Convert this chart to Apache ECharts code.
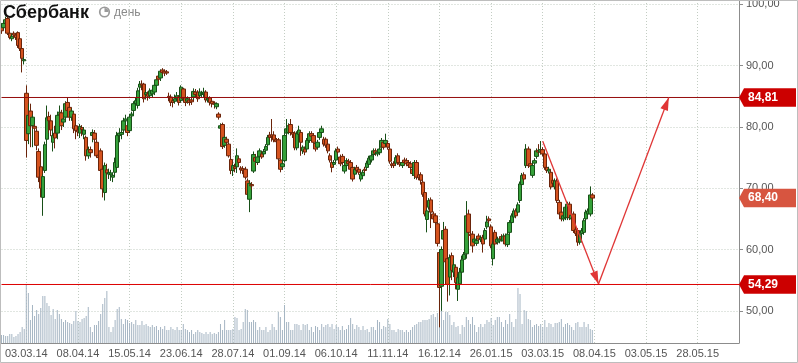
<!DOCTYPE html>
<html><head><meta charset="utf-8">
<script src="https://cdn.jsdelivr.net/npm/echarts@6/dist/echarts.min.js"></script>
<style>html,body{margin:0;padding:0;background:#fff}#c{width:798px;height:363px}</style>
</head><body><div id="c"></div>
<script>
// ---- data ----
const TICK_LABELS = ['03.03.14','08.04.14','15.05.14','23.06.14','28.07.14','01.09.14','06.10.14','11.11.14','16.12.14','26.01.15','03.03.15','08.04.15','03.05.15','28.05.15'];
const TICK_START = 12;      // category index of first labelled date
const TICK_STEP = 25;       // trading days between labels
const SLOT_COUNT = 358;     // history + forecast space
const categories = Array.from({length: SLOT_COUNT}, (_, i) => String(i));

// [open, close, low, high]
const ohlc = [
[96.6,95.7,95.2,96.9],[96.2,96.9,95.9,97.2],[96.9,97.5,96.6,98.0],[97.7,95.3,95.0,98.0],[95.3,94.6,94.3,95.6],[94.4,94.8,94.0,95.2],[95.3,95.0,94.6,95.6],[95.0,94.6,94.2,95.3],[95.4,93.3,92.9,95.6],[94.4,92.8,92.4,94.6],
[92.8,91.2,88.9,93.0],[90.8,91.0,90.2,91.4],[85.5,77.8,75.0,86.8],[78.9,81.9,77.2,83.8],[82.6,80.2,76.7,83.8],[80.2,81.6,76.7,82.0],[80.1,79.8,79.0,80.5],[79.3,77.0,76.2,79.8],[76.0,71.8,71.0,76.5],[73.5,70.0,68.5,74.0],
[68.5,71.9,65.5,72.3],[72.9,77.1,72.5,77.6],[78.0,81.5,76.0,83.5],[81.7,81.0,79.0,82.5],[81.0,79.5,78.5,82.0],[77.5,78.6,76.0,79.7],[79.0,78.2,76.5,80.2],[79.0,81.9,78.0,82.5],[82.0,82.4,81.0,83.5],[82.3,80.2,79.5,82.8],
[80.8,81.3,80.0,82.0],[81.6,83.8,81.0,84.2],[84.0,82.7,82.0,84.8],[83.2,81.6,81.0,83.6],[81.6,82.6,81.0,83.0],[82.1,79.7,79.0,82.5],[80.2,79.4,78.0,80.6],[79.5,79.2,78.5,80.0],[79.0,80.1,78.2,80.5],[79.9,79.6,78.5,80.3],
[78.8,79.5,78.0,80.0],[78.3,75.3,74.5,78.6],[75.3,76.3,74.8,76.8],[76.3,75.8,75.0,76.8],[78.6,79.1,77.5,79.6],[79.0,78.0,77.0,79.5],[77.5,75.3,75.0,78.0],[75.4,75.0,74.2,76.0],[76.1,72.9,72.3,76.5],[73.1,69.9,68.5,73.5],
[69.3,73.7,68.0,74.2],[73.0,72.5,71.5,74.0],[72.3,72.6,71.5,73.2],[72.2,72.5,71.2,73.0],[71.8,72.1,71.0,72.6],[72.6,74.2,72.0,75.0],[73.4,78.6,73.0,79.2],[78.6,79.0,77.5,79.8],[78.8,79.1,78.0,80.0],[79.5,81.0,78.8,81.5],
[81.0,81.3,80.0,82.0],[80.2,79.1,78.5,80.8],[79.4,81.6,79.0,82.0],[81.8,82.1,81.0,82.5],[82.7,83.8,82.0,84.2],[83.8,84.3,83.0,84.8],[83.5,85.9,83.0,86.4],[86.5,87.0,85.8,87.5],[87.0,86.8,86.0,87.6],[87.0,84.6,84.0,87.2],
[85.3,85.6,84.5,86.0],[85.4,85.0,84.3,85.8],[85.1,85.9,84.6,86.3],[85.4,86.0,84.8,86.5],[85.7,86.8,85.2,87.2],[86.8,87.7,86.3,88.0],[88.3,87.8,87.0,88.6],[88.0,89.1,87.5,89.4],[89.3,88.9,88.5,89.6],[89.1,88.8,88.3,89.4],
[89.0,88.8,88.5,89.3],[85.0,84.8,84.2,85.6],[84.9,84.0,83.4,85.3],[84.3,84.0,83.2,84.6],[84.2,84.6,83.8,85.3],[84.6,85.1,84.2,85.7],[84.9,84.0,83.5,85.2],[84.3,86.5,84.0,86.8],[86.2,84.6,84.2,86.4],[84.75,84.0,83.4,85.0],
[84.2,84.6,83.8,85.0],[84.4,84.0,83.5,84.8],[84.4,84.1,83.6,84.8],[84.9,85.8,84.4,86.3],[85.7,85.3,84.8,86.2],[85.7,84.6,84.1,86.0],[85.1,85.7,84.7,86.3],[85.3,85.5,84.9,85.9],[85.4,85.7,84.9,86.4],[85.7,84.4,84.0,86.0],
[84.4,84.7,84.0,85.0],[84.75,84.0,83.5,85.0],[84.2,83.8,83.2,84.5],[83.9,83.7,83.0,84.2],[83.3,83.8,82.9,84.0],[82.1,81.6,81.2,82.4],[79.8,80.2,79.3,80.6],[80.4,76.8,76.4,80.7],[77.0,78.3,76.6,78.6],[78.0,77.5,77.0,78.4],
[77.2,75.3,75.0,77.5],[74.7,72.9,72.3,75.3],[72.9,73.7,72.0,74.0],[73.5,73.2,72.6,74.0],[73.5,75.3,72.5,76.5],[74.8,74.2,73.6,75.2],[73.3,73.0,72.4,73.6],[73.2,72.9,72.3,73.6],[73.1,71.8,71.4,73.5],[71.2,69.0,68.6,71.6],
[68.2,70.8,66.1,71.3],[70.6,70.4,69.8,71.0],[72.8,75.5,72.5,76.0],[75.0,74.4,73.6,75.6],[74.2,75.1,73.8,75.5],[75.2,76.1,74.8,76.5],[75.6,75.1,74.8,76.0],[75.6,76.0,75.2,76.4],[76.2,76.8,75.8,77.2],[77.1,78.3,76.8,78.7],
[78.7,78.3,77.9,79.2],[78.7,78.4,77.6,81.3],[78.7,77.9,77.5,79.3],[77.9,77.6,77.0,78.2],[77.9,74.8,74.4,78.2],[74.6,73.1,72.6,74.9],[73.5,74.0,73.0,74.5],[74.5,78.6,74.2,79.0],[79.0,79.7,78.5,81.3],[79.1,80.2,78.8,80.6],
[80.4,79.1,78.6,81.3],[79.1,78.8,78.2,79.5],[79.0,76.6,76.2,79.3],[76.6,78.9,76.2,79.3],[78.8,79.5,78.4,80.2],[79.1,77.5,75.3,79.4],[76.1,76.7,75.6,77.0],[76.4,75.9,75.4,76.8],[76.4,77.8,76.0,78.2],[77.8,78.9,77.4,79.3],
[78.9,78.5,78.0,79.3],[78.6,77.5,76.4,79.0],[77.3,76.4,76.0,77.7],[76.7,77.5,76.3,77.9],[78.3,79.1,77.9,79.5],[79.1,79.7,78.7,80.2],[78.0,77.2,76.8,78.4],[78.0,77.0,76.6,78.3],[77.2,76.1,75.7,77.5],[75.3,74.6,74.2,75.7],
[74.2,73.4,72.6,74.6],[73.9,74.2,73.5,74.6],[74.6,76.1,74.2,76.5],[76.4,75.9,75.5,76.8],[75.1,74.0,73.6,75.5],[75.2,74.2,73.8,75.6],[72.8,73.7,72.4,74.1],[73.7,74.5,73.3,74.9],[74.4,74.0,73.6,74.8],[74.2,73.1,72.7,74.6],
[73.4,71.5,71.1,73.8],[72.3,73.1,71.9,73.5],[73.4,72.9,72.5,73.8],[73.1,72.6,72.2,73.5],[71.5,72.3,71.1,72.7],[72.05,72.6,71.7,73.0],[73.1,72.9,72.5,73.5],[73.4,74.1,73.0,74.5],[73.9,74.9,73.5,75.3],[74.6,75.3,74.2,75.7],
[75.5,76.1,75.1,76.5],[76.1,75.7,75.3,76.5],[75.6,75.9,75.2,76.3],[75.8,76.4,75.4,77.4],[76.7,77.8,76.3,78.2],[77.5,76.7,76.3,77.9],[77.3,77.8,76.9,78.9],[77.3,76.7,76.3,77.7],[76.4,74.4,74.0,76.8],[73.96,73.7,73.3,74.3],
[74.0,73.7,73.3,74.4],[74.1,75.0,73.7,75.4],[75.3,74.2,73.8,75.7],[74.2,73.9,73.5,74.6],[73.7,74.2,73.3,74.6],[74.6,74.2,73.8,75.0],[74.5,74.0,73.6,74.9],[74.2,73.7,73.3,74.6],[74.0,73.4,73.0,74.4],[73.1,72.4,72.0,73.5],
[72.1,74.2,71.5,74.6],[74.2,71.8,71.4,74.6],[72.2,71.7,71.3,72.6],[72.2,71.3,70.6,72.6],[71.0,69.0,68.6,71.4],[69.3,65.8,65.4,69.7],[64.9,66.3,62.8,66.7],[66.9,68.0,66.5,68.4],[68.1,66.1,63.5,68.5],[65.8,65.0,64.6,66.2],
[65.5,64.4,64.0,65.9],[64.2,61.0,60.5,64.6],[59.5,53.8,47.3,60.0],[54.0,60.0,50.0,60.5],[61.7,63.1,60.5,64.5],[63.3,58.0,56.0,63.8],[58.5,54.3,51.5,59.0],[55.5,58.7,52.5,59.2],[59.0,56.6,55.0,59.5],[56.3,57.5,55.5,58.5],
[57.1,54.6,53.5,57.5],[53.5,55.4,51.6,56.0],[54.4,56.3,53.8,57.0],[56.3,58.3,55.8,59.0],[58.4,59.2,57.5,59.6],[59.3,65.5,58.5,67.9],[65.8,62.8,61.5,66.5],[62.5,62.3,61.0,63.5],[62.5,60.6,59.5,63.0],[61.2,61.7,60.8,62.1],
[61.0,61.5,60.6,61.9],[62.2,61.7,61.3,62.6],[61.6,61.9,61.2,62.3],[62.0,60.9,59.5,62.4],[61.7,63.1,61.3,63.5],[63.7,64.5,63.3,65.5],[65.0,64.7,64.3,65.4],[63.7,60.6,60.2,64.1],[58.5,60.9,57.4,61.3],[62.8,60.9,60.5,63.2],
[61.2,61.7,60.8,62.1],[61.4,61.7,61.0,62.1],[62.1,61.7,61.3,62.5],[61.4,62.2,61.0,62.6],[62.2,60.9,60.5,62.6],[60.8,62.5,60.4,62.9],[62.8,64.4,62.4,64.8],[64.4,65.5,64.0,65.9],[65.3,66.3,64.9,66.7],[66.3,65.5,65.1,66.7],
[66.1,67.3,65.7,67.7],[68.0,70.7,67.6,71.1],[70.6,72.1,70.2,72.5],[72.2,71.5,71.1,72.6],[73.7,76.4,73.3,77.2],[76.4,73.7,73.3,76.8],[74.0,73.6,73.2,74.4],[72.1,73.7,71.7,74.1],[74.1,74.5,73.7,74.9],[75.2,76.1,74.8,76.5],
[76.2,75.9,75.5,77.2],[75.9,76.3,75.5,77.7],[76.3,75.6,75.2,76.7],[75.6,73.4,73.0,76.0],[73.4,72.9,72.5,73.8],[72.8,73.1,72.4,73.5],[72.6,70.2,69.8,73.0],[71.3,70.8,70.4,71.7],[70.2,71.2,69.8,71.6],[71.2,68.0,67.6,71.6],
[67.7,65.8,65.4,68.1],[66.1,65.0,64.6,66.5],[65.0,65.5,64.6,65.9],[65.2,66.9,64.8,67.3],[65.2,67.4,64.8,67.8],[67.4,65.2,64.8,67.8],[65.0,65.6,64.6,66.0],[65.8,63.1,62.7,66.2],[63.3,62.6,62.2,63.7],[63.1,61.2,60.6,63.5],
[61.2,62.5,60.8,62.9],[62.6,63.1,62.2,63.5],[62.8,64.7,62.4,65.1],[65.0,66.1,64.6,66.5],[65.8,66.3,65.4,66.7],[65.8,68.9,65.4,70.3],[68.9,68.4,68.0,69.2]
];

// volume, millions of shares
const volume = [
40,40,35,35,45,45,30,35,45,55,80,70,
290,250,115,190,135,165,145,175,235,235,
200,185,140,170,120,165,145,120,105,115,
105,100,95,110,160,110,105,120,125,135,
180,
80,55,90,90,110,145,195,225,260,
80,55,80,115,170,180,120,95,120,115,
100,105,95,115,90,90,110,90,95,85,
80,90,80,85,65,80,70,85,65,65,
80,70,65,80,65,65,95,70,65,55,
65,45,55,65,55,50,45,55,45,55,
45,50,45,55,95,65,115,65,65,65,70,
130,125,65,70,105,170,165,
105,105,115,105,65,80,65,65,80,55,
65,95,80,65,155,130,65,190,105,105,
65,65,95,95,90,65,95,90,95,65,
80,55,85,80,65,95,80,90,95,80,
95,70,90,80,65,85,65,70,90,125,
95,70,90,80,65,85,65,70,55,80,
80,65,115,105,70,85,80,120,95,65,
65,55,70,65,65,55,65,55,65,80,
90,95,105,105,115,115,115,120,140,145,
130,150,300,260,115,155,155,140,90,105,
80,85,45,90,80,130,115,95,130,90,
55,80,95,80,95,115,105,125,90,115,
130,130,105,80,115,95,145,105,80,120,
275,245,95,165,160,120,115,80,90,95,
85,95,80,115,80,100,95,80,100,100,
105,120,80,95,100,90,80,65,100,105,
80,80,105,80,95,70,65
];

const resistance = 84.81;
const support = 54.29;
const lastPrice = 68.40;
// forecast arrows: [category index, price]
const arrowDown = [[261.8, 77.66], [289.4, 54.36]];
const arrowUp = [[289.4, 54.36], [322.6, 84.81]];

// ---- chart ----
const fmt = v => v.toFixed(2).replace('.', ',');
const FONT = '"Liberation Sans", Arial, sans-serif';
const isTick = i => i >= TICK_START && (i - TICK_START) % TICK_STEP === 0;
const tickText = (v, i) => { const k = (i - TICK_START) / TICK_STEP; return TICK_LABELS[k] || ''; };
const gridDot = {color: '#c3cdc3', type: [1, 2], width: 1};
const arrowStyle = {color: '#e03636', width: 1.3, type: 'solid'};
const head = {symbol: 'triangle', symbolSize: [8, 13], symbolOffset: [0, 6.5]};
const LAST = SLOT_COUNT - 1;
const levelSeries = (name, value, color) => ({
  type: 'line', name: name, xAxisIndex: 0, yAxisIndex: 0, silent: true, z: 4,
  data: [[0, value], [LAST, value]], showSymbol: false, symbol: 'none',
  lineStyle: {color: color, width: 1, type: 'solid'}, itemStyle: {color: color}
});

const chart = echarts.init(document.getElementById('c'), null, {renderer: 'canvas'});
chart.setOption({
  animation: false,
  backgroundColor: '#ffffff',
  grid: [
    {left: 1.5, right: 59, top: -56.84, height: 428.89, outerBoundsMode: 'none', containLabel: false},
    {left: 1.5, right: 59, top: 0, bottom: 20, outerBoundsMode: 'none', containLabel: false}
  ],
  xAxis: [
    {type: 'category', gridIndex: 0, data: categories, boundaryGap: false, show: false},
    {type: 'category', gridIndex: 1, data: categories, boundaryGap: false,
     axisLine: {show: true, lineStyle: {color: '#8c8c8c', width: 1}},
     axisTick: {show: false},
     axisLabel: {interval: isTick, formatter: tickText, color: '#555', fontSize: 11, fontFamily: FONT, margin: 5},
     splitLine: {show: true, interval: isTick, lineStyle: gridDot}}
  ],
  yAxis: [
    {type: 'value', gridIndex: 0, position: 'right', min: 40, max: 110, interval: 10,
     axisLine: {show: false},
     axisTick: {show: true, length: 4, lineStyle: {color: '#8c8c8c'}},
     axisLabel: {formatter: fmt, color: '#555', fontSize: 11, fontFamily: FONT, margin: 7},
     splitLine: {show: true, lineStyle: gridDot}},
    {type: 'value', gridIndex: 1, position: 'right', min: 0, max: 1715,
     axisLine: {show: true, lineStyle: {color: '#8c8c8c', width: 1}},
     axisTick: {show: false}, axisLabel: {show: false}, splitLine: {show: false}}
  ],
  series: [
    {type: 'bar', name: 'volume', xAxisIndex: 1, yAxisIndex: 1, data: volume,
     barWidth: 1, itemStyle: {color: '#a5b5c3'}, z: 1, silent: true},
    levelSeries('resistance', resistance, '#950c0c'),
    levelSeries('support', support, '#dd0000'),
    {type: 'candlestick', name: 'Сбербанк', xAxisIndex: 0, yAxisIndex: 0, data: ohlc,
     barWidth: 4, z: 3,
     itemStyle: {color: '#35a13a', color0: '#d5531f', borderColor: '#174f17', borderColor0: '#6a240a', borderColorDoji: '#333', borderWidth: 1},
     markLine: {
       silent: true, animation: false, symbol: ['none', 'none'], label: {show: false},
       emphasis: {disabled: true},
       data: [
         [{coord: arrowDown[0], symbol: 'none', lineStyle: arrowStyle}, Object.assign({coord: arrowDown[1], lineStyle: arrowStyle}, head)],
         [{coord: arrowUp[0], symbol: 'none', lineStyle: arrowStyle}, Object.assign({coord: arrowUp[1], lineStyle: arrowStyle}, head)]
       ]
     }},
    {type: 'custom', name: 'tags', xAxisIndex: 0, yAxisIndex: 0, clip: false, z: 10, silent: true,
     data: [[0, resistance, 0], [0, lastPrice, 1], [0, support, 0]],
     encode: {x: 0, y: 1},
     renderItem: (params, api) => {
       const y = api.coord([0, api.value(1)])[1];
       const x0 = params.coordSys.x + params.coordSys.width;
       const h = 9.3, w = 57, tip = 5;
       const fill = api.value(2) === 1 ? '#d75540' : '#cc0000';
       return {type: 'group', children: [
         {type: 'polygon', shape: {points: [[x0, y], [x0 + tip, y - h], [x0 + w, y - h], [x0 + w, y + h], [x0 + tip, y + h]]}, style: {fill: fill}},
         {type: 'text', x: x0 + 9, y: y, style: {text: fmt(api.value(1)), fill: '#fff', font: 'bold 12px ' + FONT, verticalAlign: 'middle', align: 'left'}}
       ]};
     }}
  ],
  graphic: [
    {type: 'text', x: 3, y: 4, style: {text: 'Сбербанк', fill: '#111', font: 'bold 18px ' + FONT, verticalAlign: 'top'}},
    {type: 'circle', shape: {cx: 104.5, cy: 12, r: 5.6}, style: {fill: '#9a9a9a'}},
    {type: 'circle', shape: {cx: 104.5, cy: 12, r: 3.9}, style: {fill: '#fff'}},
    {type: 'sector', shape: {cx: 104.5, cy: 12, r: 3.9, r0: 0, startAngle: -Math.PI / 2, endAngle: 0}, style: {fill: '#9a9a9a'}},
    {type: 'text', x: 114, y: 13, style: {text: 'день', fill: '#8a8a8a', font: '12px ' + FONT, verticalAlign: 'middle'}},
    {type: 'rect', shape: {x: 0.5, y: 0.5, width: 797, height: 362}, style: {fill: null, stroke: '#bdbdbd', lineWidth: 1}, silent: true, z: 100}
  ]
});
</script></body></html>
